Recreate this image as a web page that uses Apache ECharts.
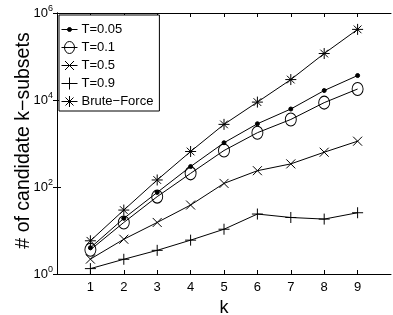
<!DOCTYPE html>
<html>
<head>
<meta charset="utf-8">
<script src="https://cdn.jsdelivr.net/npm/echarts@6/dist/echarts.min.js"></script>
<style>
  html, body { margin: 0; padding: 0; background: #fff; }
  #main { width: 393px; height: 315px; }
</style>
</head>
<body>
<div id="main"></div>
<script>
const ks = [1, 2, 3, 4, 5, 6, 7, 8, 9];
const t005 = [4.0, 19, 75, 295, 1040, 2840, 6200, 16500, 36500];
const t01 = [3.6, 15.3, 60, 206, 690, 1770, 3570, 8700, 17900];
const t05 = [2.2, 6.3, 15.3, 38.5, 121, 237, 340, 630, 1130];
const t09 = [1.33, 2.18, 3.5, 6.0, 10.7, 23.9, 19.9, 18.3, 25.6];
const bruteForce = [5.8, 29.5, 145, 655, 2750, 8950, 29500, 117000, 420000];
const yTicks = [0, 2, 4, 6];

const chart = echarts.init(document.getElementById('main'), null, { renderer: 'canvas' });

const plusPath = 'path://M0,-5L0,5M-5,0L5,0';
const crossPath = 'path://M-5,-5L5,5M-5,5L5,-5';
const starPath = 'path://M0,-5L0,5M-5,0L5,0M-3.5,-3.5L3.5,3.5M-3.5,3.5L3.5,-3.5';

// legend icons: line sample with the marker on it (16 wide box)
const legendIcons = {
  dot: 'path://M0,7L16,7M10,7A2,2,0,1,1,6,7A2,2,0,1,1,10,7Z',
  circle: 'path://M0,7L16,7M13,7A5,6,0,1,1,3,7A5,6,0,1,1,13,7Z',
  cross: 'path://M0,7L16,7M3.5,2.5L12.5,11.5M3.5,11.5L12.5,2.5',
  plus: 'path://M0,7L16,7M8,1L8,13',
  star: 'path://M0,7L16,7M8,1.5L8,12.5M4,3L12,11M4,11L12,3'
};

function mk(name, vals, symbol, size, filled) {
  return {
    name: name,
    type: 'line',
    data: ks.map((k, i) => [k, vals[i]]),
    symbol: symbol,
    symbolSize: size,
    showAllSymbol: true,
    lineStyle: { color: '#000', width: 1 },
    itemStyle: {
      color: filled ? '#000' : 'rgba(0,0,0,0)',
      borderColor: '#000',
      borderWidth: 1
    },
    emphasis: { disabled: true },
    animation: false
  };
}

const axisFont = { fontFamily: 'Liberation Sans, Arial, sans-serif', color: '#000' };

var option = {
  backgroundColor: '#fff',
  animation: false,
  grid: { left: 57, right: 2, top: 13, bottom: 41, outerBoundsMode: 'none', containLabel: false },
  legend: {
    orient: 'vertical',
    left: 59,
    top: 15,
    padding: [8, 6, 3, 2],
    itemGap: 5,
    itemWidth: 16,
    itemHeight: 14,
    backgroundColor: '#fff',
    borderColor: '#000',
    borderWidth: 1,
    borderRadius: 0,
    itemStyle: { borderColor: '#000', borderWidth: 1 },
    textStyle: { fontFamily: 'Liberation Sans, Arial, sans-serif', fontSize: 13, color: '#000', padding: [0, 0, 0, -1] },
    data: [
      { name: 'T=0.05', icon: legendIcons.dot },
      { name: 'T=0.1', icon: legendIcons.circle },
      { name: 'T=0.5', icon: legendIcons.cross },
      { name: 'T=0.9', icon: legendIcons.plus },
      { name: 'Brute\u2212Force', icon: legendIcons.star }
    ]
  },
  xAxis: [{
    type: 'value',
    min: 0,
    max: 10,
    interval: 1,
    name: 'k',
    nameLocation: 'middle',
    nameGap: 21,
    nameTextStyle: { ...axisFont, fontSize: 18 },
    axisLine: { lineStyle: { color: '#000', width: 1 } },
    axisTick: { inside: true, length: 4, lineStyle: { color: '#000' },
      customValues: ks },
    axisLabel: { ...axisFont, fontSize: 13, margin: 7,
      customValues: ks },
    splitLine: { show: false }
  }, {
    type: 'value',
    position: 'top',
    min: 0,
    max: 10,
    interval: 1,
    axisLine: { lineStyle: { color: '#000', width: 1 } },
    axisTick: { inside: true, length: 4, lineStyle: { color: '#000' }, customValues: ks },
    axisLabel: { show: false },
    splitLine: { show: false }
  }],
  yAxis: [{
    type: 'log',
    logBase: 10,
    min: 1,
    max: 1e6,
    name: '# of candidate k\u2212subsets',
    nameLocation: 'middle',
    nameGap: 23,
    nameMoveOverlap: false,
    nameTextStyle: { ...axisFont, fontSize: 19.5, padding: [0, 0, 0, 6] },
    axisLine: { lineStyle: { color: '#000', width: 1 } },
    axisTick: { inside: true, length: 4, lineStyle: { color: '#000' },
      customValues: yTicks.map(e => Math.pow(10, e)) },
    axisLabel: {
      customValues: yTicks.map(e => Math.pow(10, e)),
      margin: 4,
      formatter: function (v) {
        const e = Math.round(Math.log10(v));
        return '{b|10}{s|' + e + '}';
      },
      rich: {
        b: { ...axisFont, fontSize: 13 },
        s: { ...axisFont, fontSize: 9, verticalAlign: 'top', padding: [0, 0, 8, 0] }
      }
    },
    splitLine: { show: false }
  }, {
    type: 'log',
    logBase: 10,
    min: 1,
    max: 1e6,
    position: 'right',
    axisLine: { lineStyle: { color: '#000', width: 1 } },
    axisTick: { inside: true, length: 4, lineStyle: { color: '#000' },
      customValues: yTicks.map(e => Math.pow(10, e)) },
    axisLabel: { show: false },
    splitLine: { show: false }
  }],
  series: [
    mk('T=0.05', t005, 'circle', 4, true),
    mk('T=0.1', t01, 'circle', [11, 13], false),
    mk('T=0.5', t05, crossPath, 9, false),
    mk('T=0.9', t09, plusPath, 11, false),
    mk('Brute\u2212Force', bruteForce, starPath, 11, false)
  ]
};

chart.setOption(option);
</script>
</body>
</html>
